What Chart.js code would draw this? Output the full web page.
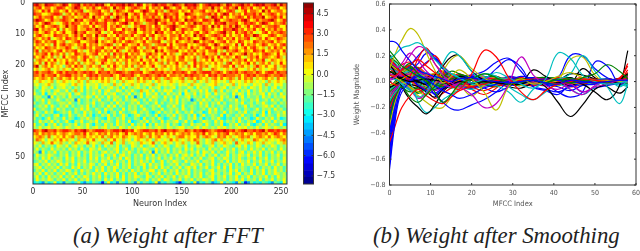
<!DOCTYPE html>
<html>
<head>
<meta charset="utf-8">
<script src="https://cdn.jsdelivr.net/npm/chart.js@4/dist/chart.umd.js"></script>
<style>
html, body { margin: 0; background: #fff; overflow: hidden; }
canvas { position: absolute; filter: blur(0.45px); }
#heat { left: 0; top: 0; }
#bar { left: 295px; top: 0; }
#lines { left: 353px; top: 0; }
.cap { position: absolute; top: 223px; font: italic 22.8px "Liberation Serif"; color: #222; white-space: nowrap; }
</style>
</head>
<body>
<canvas id="heat" width="300" height="209" style="width:300px;height:209px"></canvas>
<canvas id="bar" width="45" height="209" style="width:45px;height:209px"></canvas>
<canvas id="lines" width="287" height="209" style="width:287px;height:209px"></canvas>
<div class="cap" style="left:73px">(a) Weight after FFT</div>
<div class="cap" style="left:373px">(b) Weight after Smoothing</div>
<script>
// heatmap: one string per MFCC row, one char per 3 neurons, char = index into heatLevels
var heatLevels = [-6.0, -4.4, -3.2, -2.2, -1.4, -0.5, 0.3, 1.3, 2.3, 3.2, 4.3];
var heatRows = [
"9a87a99878 a9689a7989 8a9a769899 a8a97a9687 9a89978a98 7a99a8689a 99a87a9789 a8979a9a88 9a7a89",
"7896886799 8678a97687 9768986a78 9678987696 8786a97689 6798976887 a7868978a6 9879678697 889679",
"8769796886 7968789567 8896785798 7689668a97 6978579886 8769778967 8697689856 7968876a79 678867",
"9886678998 5786978896 7898679687 8a67986978 8967987896 6a98767889 7968a96878 6988979678 986879",
"6797889675 9878677986 a7868957a8 7968796887 9786a89796 7868978857 a979686789 8697988a67 897968",
"8a98679778 9876a89678 9867988a97 6989786799 8a97869897 6a89876998 7a96789887 9a86797889 a86798",
"7868a97656 8979886769 7988967868 9a76987578 8a68977968 9687a89778 6989a78896 7989868a97 687896",
"8679678986 7a78967886 9678968798 6756879978 6986789a87 6789867986 a7968797a8 6796898678 898669",
"9a68787695 8678967798 7a87968866 9787a68978 7896869a67 9878667987 8676988a97 8687967968 797868",
"7867986867 9668a78967 7896576989 8678966878 6a89678687 9676896897 6789a78697 8978656896 878987",
"6897676988 7867979688 6a78967697 8879678968 9678768879 6876a79867 8987968678 6987a97668 986788",
"8768795678 6987868a78 7965787868 9676878695 8687968769 8797668a87 6798687968 7895678697 679876",
"7986878967 8567896678 8a68767978 6898767967 8896578697 6787a96878 9678968769 8676987878 968767",
"6878675968 9787687968 7867898576 9867796887 5788969678 8967678986 7a86787695 9687867986 786897",
"8676987867 7986578978 6889676978 8678967587 9867689768 7869786799 6878a96786 7968976758 697868",
"7958787689 6878967568 7986878697 5687986877 6a79678896 7687967868 8967587897 6876987967 878695",
"6878969786 8576987867 8967685978 7968786689 7867968756 8978687967 7858969767 8a78676898 769678",
"8679768575 9678867986 7576987868 6987867596 8769677868 9676857897 8696787698 6578796887 679758",
"5787686967 6867857968 7678967586 7868769678 6957687868 8677957686 9678675878 7968687956 876768",
"7685968757 6978685767 8569767867 5867786968 7678586796 7856978767 6867589678 6796857868 576967",
"8a57868676 4786978578 6785686976 7868578767 9657867686 7586968785 6767886957 8675797686 685787",
"6756785675 7658676576 5678567865 7656785676 5867657687 5676578565 8765675786 6576857656 785675",
"8978898689 7988978989 8698897899 8789889678 9889787988 9868978999 7898689897 8988798689 979889",
"8879788968 8997878689 8978889768 9889768898 7898968878 7989887869 8978988878 6898978898 788987",
"7678768578 6786867758 7868675768 6787586878 6875787667 8578687675 7868678758 6878576786 758676",
"6576567465 7656576475 6567675645 7566576756 4675657656 7565746575 6765647656 5767565647 567657",
"5645675456 6546756465 5645654756 4657564565 7465656546 5647565456 6754565746 5654656475 465645",
"4536546355 6453546364 5635456453 6354564536 4563545635 4465364554 6345635456 4536546453 563545",
"5346453564 4635746354 5463564465 3546437564 6354656345 4635546463 5746354563 5463546453 645354",
"6436254645 5463564354 6453645634 5463546365 4635364546 2654635465 3645543646 5364545636 453645",
"4553416354 5364435465 3645364554 3635146354 6543645364 4563545364 5436453514 6354453645 354563",
"3546354464 3545163453 5463453645 3545643536 4534536463 5451354645 3546345463 5435463453 645354",
"5345364345 5464353454 6345435364 5345463453 4635345463 5434536453 5463534454 6345354643 453546",
"3454636435 4635345463 5345364635 4354536434 5463354643 6345435463 5345436453 4635434564 635345",
"6345435364 5343546464 3543645343 6354534643 5436345453 6435434536 4635345464 3543463545 364534",
"3543645234 5463543645 3463524536 4345635453 2463545364 3546345236 4534635435 4634543626 345463",
"4635343562 4364354635 2435463534 6423564354 3624354635 4353624634 5436254354 6343524635 436454",
"5342463543 6354235464 3543264354 6343542634 5364235436 4354635243 5463243546 3542364354 635234",
"4364546353 4632546345 4635454364 5362345463 5436354563 4635234654 3646354536 4354623645 364543",
"6345254635 3454635464 2543645364 5436354625 3645463542 5436455364 3546235463 5463245364 543622",
"5464564565 4654565464 5645645546 5464565645 4565465456 6454564654 5465645456 5645464565 465454",
"9879a88978 9987989a87 8999878998 a989678998 8979a88987 7987989a98 7899a98978 9a88989a79 989898",
"7868787867 8767887968 7687868786 7967878678 6878686867 8786787968 7687896787 8678688786 798687",
"6787585676 8678577867 6768578676 8765678758 6786576578 8676685787 6587867567 8785678768 678767",
"5876465768 6756476576 8565746865 7564676576 4765658675 6576875465 7867565746 7565876575 656786",
"6547568657 5464765685 6547568465 7456547656 8546756465 7546585465 7456756485 6576465756 546576",
"5463545365 4635645354 6353645463 5436546345 6354653465 4635465345 6354654356 4635465354 653546",
"4635436454 5364536436 5464354563 4635354654 3645463545 3646354536 4546354635 4536454635 453645",
"5416354635 4535463546 4535645463 5464353546 1635463546 4535463654 6353464535 6354646354 635464",
"3645465435 4635463536 4546354635 6453546354 6354535463 5646354635 4635463546 5463546353 546354",
"4536463545 3646354536 4635463546 3653545364 5463546354 6453546345 6354653546 4354635463 545364",
"3454635465 3546354635 4536546354 5363546453 6346354654 3645463554 6345363546 5463546354 635464",
"5635464536 4635364546 5354635463 5463545636 4546345463 5436546354 6353546353 6454635463 546354",
"4563545463 5436463546 3546354653 5463453635 4636453546 3564635463 5463636354 5435463545 364535",
"3546354635 4653536454 3646354635 4536453546 6354635463 5463545345 6354536463 5436354635 464536",
"5463645354 6354635354 6453645463 5354635463 5463545364 5463546354 6453546356 3546354635 465453",
"4635364546 3546354653 5463535463 6354654365 3546354635 4653546345 6354635463 5463545463 536454",
"3645465354 6354635463 5453646354 6354535463 5463653546 3546354654 6354535464 6354536354 635463",
"2321423623 1432352132 4320362314 3243152432 3613243210 2342613243 1236243215 3014232432 143263"
];
var heatStep = 3;
var heatTicksX = [0, 50, 100, 150, 200, 250];
var heatTicksY = [0, 10, 20, 30, 40, 50];
var neuronCount = 256;
var mfccCount = 59;

// colour bar
var barEdges = [-8.1, -7.6, -7.1, -6.6, -6.1, -5.6, -5.1, -4.6, -4.1, -3.6, -3.1, -2.6, -2.1, -1.6, -1.1, -0.6, -0.1, 0.4, 0.9, 1.4, 1.9, 2.4, 2.9, 3.4, 3.9, 4.4, 4.9, 5.3];
var barTicks = [-7.5, -6, -4.5, -3, -1.5, 0, 1.5, 3, 4.5];

// lines, weights in hundredths, sampled at these MFCC indices
var mfccX = [0,1,2,3,5,7,9,11,13,15,17,20,23,26,29,32,35,38,41,44,47,50,53,56,58];
var blueLines = [
[31,31,29,24,16,9,6,4,2,0,2,3,1,0,-1,0,1,-1,-2,1,0,-1,0,1,1],
[-68,-40,-18,-8,0,4,2,-3,-7,-10,-13,-10,-5,-2,0,-2,1,2,1,0,-1,1,2,1,2],
[-60,-32,-14,-5,1,5,-2,-10,-16,-21,-22,-18,-14,-8,0,4,2,-2,-4,-7,-3,-2,1,0,2],
[-55,-28,-10,-3,2,-3,-7,-9,-5,-2,0,4,2,10,17,11,-4,-7,-10,-3,-8,-5,-3,-1,3],
[-48,-25,-8,-1,3,1,-1,-2,-1,1,3,5,8,15,18,8,-2,0,3,20,20,10,3,0,3],
[-40,-18,-5,0,4,9,15,18,12,6,2,-3,-5,-8,-4,1,3,-2,-8,-12,-8,15,12,-2,1],
[-35,-12,-2,3,8,14,22,20,10,2,-3,-5,-2,0,3,1,-4,-6,-8,-4,-2,0,2,1,4],
[-30,-8,2,6,12,20,25,18,10,4,1,-2,1,-3,-1,-3,-1,2,1,-2,2,-2,0,-1,1],
[12,10,8,6,4,3,2,0,-1,1,2,3,1,-1,2,1,0,-1,1,0,-1,1,0,1,2],
[-25,-10,-4,0,2,4,0,-10,-6,-2,1,-1,-2,1,0,-1,1,0,-1,-3,-1,1,-2,-1,0],
[-64,-36,-15,-5,-1,2,4,2,-2,-4,-1,1,-2,2,-1,1,-2,1,0,-1,1,-1,1,0,1],
[-52,-24,-8,-2,3,-2,-4,1,3,-1,-3,1,3,-1,-2,2,1,-2,1,2,-2,1,0,-1,2],
[-44,-20,-6,-1,-3,3,6,2,-3,1,4,-1,-2,2,3,-1,-3,1,2,-1,0,2,-1,1,-2],
[-38,-15,-4,2,1,-3,-6,-2,2,4,-2,-4,1,3,-2,-3,2,1,-2,1,1,-2,2,0,1],
[-28,-9,0,3,6,2,-2,-6,-2,3,5,1,-3,-1,4,2,-2,-3,1,3,-1,-1,1,-1,3],
[-20,-6,1,4,8,5,3,-1,-4,-2,1,3,4,-1,-3,1,3,-1,-3,1,2,0,-2,1,-3]
];
var greenLines = [
[24,20,16,12,8,4,0,-8,-16,-10,-2,2,6,3,-2,0,1,-1,2,-1,3,6,13,8,2],
[-30,-16,-8,-4,-12,-16,-10,-4,-2,2,3,1,-1,2,0,-1,1,0,1,-1,0,1,-1,0,1],
[20,17,14,10,12,6,1,-3,3,8,6,3,1,0,-2,2,1,-1,-2,2,1,-1,1,0,3],
[-18,-10,-4,1,-4,-9,-5,2,5,1,-2,-1,2,-1,1,-1,2,0,1,2,-1,0,-1,1,5],
[8,7,6,9,14,10,4,-2,-4,-1,2,4,-2,-4,1,2,-1,1,-1,1,0,1,0,0,-2],
[-8,-5,-2,2,6,3,-1,1,4,5,1,-2,-3,1,2,-2,0,2,-1,-2,2,-1,2,-1,1],
[15,12,9,7,10,8,3,-1,2,-2,-4,-2,3,4,-1,-3,2,3,-1,-2,1,2,-1,1,4],
[-12,-7,-3,-4,-8,-4,1,4,1,-3,-1,3,1,-3,-2,2,1,-2,1,3,-2,-1,1,-1,-3],
[3,4,6,8,11,5,-3,-6,-3,2,5,3,-2,1,3,-3,-2,2,3,-1,1,-2,1,2,2],
[-3,-1,2,-1,-6,-8,-3,3,6,3,-3,-5,-1,2,1,1,3,-1,-3,2,-1,1,1,0,-1],
[18,13,8,3,-3,-5,-2,4,7,4,1,2,-2,-3,1,-2,-1,3,1,-2,2,1,-1,1,6]
];
var redLines = [
[5,4,6,9,13,17,12,7,2,-3,-6,6,24,19,3,-8,-14,-7,-2,0,2,1,0,1,3],
[-47,-38,-28,-20,-11,-6,-11,-15,-17,-12,-7,-4,-2,1,0,1,2,1,-2,1,-1,0,1,2,14],
[17,14,10,6,2,9,14,20,12,5,1,-4,-7,-3,2,-1,1,2,0,-1,1,2,1,3,12],
[0,-2,-3,-1,4,18,26,14,7,2,-1,3,1,-2,-3,2,0,-1,3,1,-2,1,-1,2,5],
[-22,-12,-6,-2,1,-3,-6,-13,-9,-5,-1,1,2,2,-1,-2,-3,1,1,2,1,-1,2,1,7],
[10,8,7,6,5,3,5,2,-3,1,4,2,-1,0,1,3,-1,1,-1,1,3,1,-2,0,1],
[14,11,7,5,1,-2,2,6,8,4,-2,-6,-10,-5,3,1,-2,2,1,-4,-2,2,1,-1,3],
[12,9,6,3,-2,-4,-7,-3,2,6,3,-3,1,3,-2,-1,3,1,-2,-1,1,-1,2,1,9],
[-15,-9,-5,-1,3,7,4,-2,-5,-2,1,4,2,-2,1,3,-1,-3,1,2,-2,1,1,-1,2],
[7,8,10,13,15,9,1,-4,-2,3,6,1,-3,-1,3,-2,1,2,-2,1,2,-2,0,1,4],
[-6,-3,0,4,9,11,6,2,3,5,2,-2,-1,3,2,1,-3,0,3,-1,-2,1,-1,2,-2],
[20,15,11,8,4,1,-1,1,5,3,-2,-4,2,4,-1,-3,-1,3,1,-1,1,2,0,-1,1]
];
var cyanLines = [
[18,20,23,26,28,30,25,17,11,6,3,-1,2,7,3,-2,-5,2,22,18,5,0,-2,-1,1],
[3,2,1,-2,-6,-12,-8,2,14,23,20,8,-1,-3,-8,-16,-6,0,2,6,20,8,-4,-17,-2],
[-15,-10,-6,-2,-1,-16,-24,-20,-14,-10,-6,2,6,4,-4,-10,-14,-8,-2,-6,-10,-4,2,-4,1],
[10,9,7,6,8,3,-2,-5,1,6,3,-2,-3,1,2,-1,1,-2,2,2,1,-2,1,-3,-2],
[-6,-4,-1,1,3,6,2,-2,-4,1,2,-1,1,-2,-1,1,-1,1,-2,1,0,2,-1,1,2],
[21,16,12,8,3,-2,1,4,2,-2,-4,-6,-3,1,-1,2,1,-3,-1,1,-3,1,2,0,-1],
[14,11,8,5,2,4,7,3,-2,-5,-3,2,4,-1,-3,1,3,-2,-1,2,-1,1,-1,1,-3],
[-10,-6,-3,1,4,-1,-5,-2,2,4,1,-3,-1,2,3,-2,-2,1,2,-1,2,-1,-1,2,2],
[5,6,7,10,12,7,2,0,4,2,-3,-1,3,1,-2,2,1,-2,-1,2,-2,1,1,-2,-4],
[-18,-11,-5,-3,-7,-9,-4,0,-3,-5,-2,1,-2,-3,2,1,-2,2,2,-2,1,-1,0,1,1]
];
var magentaLines = [
[2,3,5,10,20,27,24,14,5,-1,-4,-10,-20,-17,-2,19,5,-3,-6,-2,-8,-4,-2,1,2],
[16,13,11,14,22,16,8,2,-2,-4,-1,2,-2,1,1,-1,0,-1,1,-6,-10,-3,1,0,3],
[-12,-8,-4,-1,-6,-13,-9,-2,3,1,-3,-1,1,-2,2,0,2,1,-1,1,1,-1,0,1,2],
[6,5,4,5,6,9,4,1,-1,2,4,1,3,-1,-2,1,-1,2,0,-1,2,0,1,-1,0],
[11,9,8,9,12,8,3,-3,-6,-2,3,5,1,-2,2,-1,-3,1,2,1,-2,1,-1,1,4],
[-9,-6,-2,2,5,8,3,-1,2,-3,-5,-1,3,2,-2,2,2,-2,-1,-2,1,2,-1,1,-2],
[1,2,4,7,9,4,-4,-7,-4,1,2,-2,-4,1,3,-1,1,2,-2,2,-1,-1,2,-1,1],
[14,10,7,4,1,-3,-5,-1,3,1,-3,2,4,-2,-1,1,-2,-1,1,-1,2,0,1,-1,5]
];
var yellowLines = [
[10,18,26,32,41,36,22,9,-1,4,9,2,-8,-22,-4,2,-2,0,4,7,3,1,1,0,1],
[5,4,2,0,-4,-8,-10,-2,8,17,20,10,3,-2,1,-3,1,0,1,17,19,5,-1,0,1],
[-34,-20,-9,-2,-5,-11,-16,-20,-20,-12,-4,-11,-3,1,-1,2,-1,1,-2,1,0,-1,1,0,2],
[13,11,9,8,6,4,5,6,3,-1,1,4,2,1,2,-2,0,1,1,-1,-1,1,-1,1,0],
[-3,-2,0,2,5,3,0,-3,-1,2,-2,-3,1,3,-1,0,1,-2,0,1,2,-1,0,0,1],
[8,7,7,9,8,2,-4,-2,2,5,2,-3,-1,2,2,-3,2,1,-2,1,1,-1,1,0,-1],
[-13,-8,-4,-1,2,6,3,-2,-5,-3,3,2,-2,-2,2,2,-2,-1,2,-1,-1,2,0,-1,3],
[16,12,9,6,7,10,5,1,1,-3,-2,3,2,-3,1,1,1,-2,-1,2,2,-1,-1,1,-3],
[-7,-4,-2,3,0,-4,-7,-4,1,3,4,-1,-3,1,-1,-2,3,2,-3,1,-1,0,2,-1,2]
];
var blackLines = [
[8,6,4,2,0,1,2,1,0,-2,0,-1,0,-1,-2,-2,1,-4,-16,-27,-18,-6,-2,0,2],
[13,9,3,-4,-14,-20,-25,-18,-8,-2,4,1,-2,-1,1,-1,0,1,-1,1,-2,-8,-14,-3,24],
[16,14,10,7,3,0,-2,5,12,19,20,8,1,-2,1,-1,9,4,-1,-2,10,3,-1,2,6],
[-4,-3,-1,0,-2,-4,-8,-12,-6,-1,1,2,1,-1,-4,-5,-1,2,1,6,5,2,-4,-9,-4],
[3,3,2,3,1,0,-2,1,2,-1,0,-2,-1,2,0,1,-1,0,2,-1,1,0,1,0,1],
[10,8,5,3,5,3,1,-4,-5,-1,2,-3,-2,3,-1,1,-1,2,1,-3,1,1,-2,1,5],
[-5,-3,1,3,1,-1,3,6,3,-3,-2,3,1,-2,2,-2,2,-2,-1,3,-2,1,0,2,-3],
[6,5,3,1,-3,-6,-2,1,-2,2,3,-1,2,1,-3,2,-2,-1,2,-1,1,-2,1,1,2]
];
var lineTicksX = [0, 10, 20, 30, 40, 50, 60];
var lineTicksY = [-0.8, -0.6, -0.4, -0.2, 0, 0.2, 0.4, 0.6];

var lineGroups = [
  { color: '#0000ff', lines: blueLines },
  { color: '#008000', lines: greenLines },
  { color: '#ff0000', lines: redLines },
  { color: '#00bfbf', lines: cyanLines },
  { color: '#bf00bf', lines: magentaLines },
  { color: '#bfbf00', lines: yellowLines },
  { color: '#000000', lines: blackLines }
];

var FONT = 'DejaVu Sans Condensed';

function jet(v) {
  var t = (v + 8.1) / 13.4;
  function ch(c) { return Math.round(255 * Math.max(0, Math.min(1, 1.5 - Math.abs(4 * t - c)))); }
  return 'rgb(' + ch(3) + ',' + ch(2) + ',' + ch(1) + ')';
}

function label(v, digits) { return v.toFixed(digits).replace('-', '\u2212'); }

// matplotlib box round the plot, with small inward ticks
var frame = {
  id: 'frame',
  afterDraw: function(chart, args, opts) {
    var a = chart.chartArea, c = chart.ctx;
    c.save();
    c.strokeStyle = '#333';
    c.lineWidth = 1;
    c.strokeRect(a.left, a.top, a.right - a.left, a.bottom - a.top);
    if (opts.ticks) {
      Object.keys(chart.scales).forEach(function(id) {
        var s = chart.scales[id];
        if (!s.options.display) return;
        s.ticks.forEach(function(t) {
          var p = s.getPixelForValue(t.value);
          c.beginPath();
          if (s.isHorizontal()) {
            c.moveTo(p, a.bottom); c.lineTo(p, a.bottom - 2);
            c.moveTo(p, a.top); c.lineTo(p, a.top + 2);
          } else {
            c.moveTo(a.left, p); c.lineTo(a.left + 2, p);
            c.moveTo(a.right, p); c.lineTo(a.right - 2, p);
          }
          c.stroke();
        });
      });
    }
    c.restore();
  }
};

function axis(extra, ticks, digits, size, color, pad, fitSize, title) {
  return Object.assign({
    grid: { display: false, drawTicks: false },
    border: { display: false },
    afterBuildTicks: function(s) { s.ticks = ticks.map(function(v) { return { value: v }; }); },
    ticks: { autoSkip: false, maxRotation: 0, padding: pad, color: color, font: { family: FONT, size: size },
      callback: function(v) { return label(v, digits); } },
    title: title ? { display: true, text: title, color: color, padding: 0, font: { family: FONT, size: size + 0.5 } } : { display: false },
    afterFit: function(s) {
      if (s.isHorizontal()) s.height = fitSize; else s.width = fitSize;
      s.paddingLeft = s.paddingRight = s.paddingTop = s.paddingBottom = 0;
    }
  }, extra);
}

var base = { responsive: false, animation: false, events: [] };

// heatmap as floating bars, one dataset per row
var heatSets = heatRows.map(function(row, r) {
  var cells = row.replace(/ /g, '').split('').map(function(ch) { return heatLevels[parseInt(ch, 11)]; });
  return {
    data: cells.map(function(v, i) { return { x: i * heatStep + heatStep / 2, y: [r, r + 1] }; }),
    backgroundColor: cells.map(jet),
    grouped: false,
    barPercentage: 1,
    categoryPercentage: 1
  };
});

new Chart(document.getElementById('heat'), {
  type: 'bar',
  data: { datasets: heatSets },
  plugins: [frame],
  options: Object.assign({}, base, {
    layout: { padding: { top: 3, right: 13, left: 0, bottom: 0 } },
    plugins: { legend: { display: false }, tooltip: { enabled: false }, frame: { ticks: false } },
    scales: {
      x: axis({ type: 'linear', min: 0, max: neuronCount, offset: false }, heatTicksX, 0, 8.5, '#333', 3, 25, 'Neuron Index'),
      y: axis({ type: 'linear', min: 0, max: mfccCount, reverse: true }, heatTicksY, 0, 8.5, '#333', 8, 33, 'MFCC Index')
    }
  })
});

// colour bar
var barSets = barEdges.slice(0, -1).map(function(lo, i) {
  var hi = barEdges[i + 1];
  return { data: [[lo, hi]], backgroundColor: jet((lo + hi) / 2), grouped: false, barPercentage: 1, categoryPercentage: 1 };
});

new Chart(document.getElementById('bar'), {
  type: 'bar',
  data: { labels: [''], datasets: barSets },
  plugins: [frame],
  options: Object.assign({}, base, {
    layout: { padding: { top: 3, left: 8.5, right: 0, bottom: 25 } },
    plugins: { legend: { display: false }, tooltip: { enabled: false }, frame: { ticks: true } },
    scales: {
      x: { display: false },
      y: axis({ position: 'right', min: -8.1, max: 5.28 }, barTicks, 1, 8.5, '#333', 3, 26.5)
    }
  })
});

// weight curves, colours taken in turn like the matplotlib cycle
var lineSets = [];
var most = Math.max.apply(null, lineGroups.map(function(g) { return g.lines.length; }));
for (var n = 0; n < most; n++) {
  lineGroups.forEach(function(g) {
    if (!g.lines[n]) return;
    lineSets.push({
      data: g.lines[n].map(function(v, i) { return { x: mfccX[i], y: v / 100 }; }),
      borderColor: g.color,
      borderWidth: 1.2,
      pointRadius: 0,
      tension: 0.4,
      fill: false
    });
  });
}

new Chart(document.getElementById('lines'), {
  type: 'line',
  data: { datasets: lineSets },
  plugins: [frame],
  options: Object.assign({}, base, {
    layout: { padding: { top: 4, right: 4, left: 0, bottom: 0 } },
    plugins: { legend: { display: false }, tooltip: { enabled: false }, frame: { ticks: true } },
    scales: {
      x: axis({ type: 'linear', min: 0, max: 60 }, lineTicksX, 0, 7, '#555', 4, 24, 'MFCC Index'),
      y: axis({ type: 'linear', min: -0.8, max: 0.6 }, lineTicksY, 1, 7, '#555', 4, 36.5, 'Weight Magnitude')
    }
  })
});
</script>
</body>
</html>
